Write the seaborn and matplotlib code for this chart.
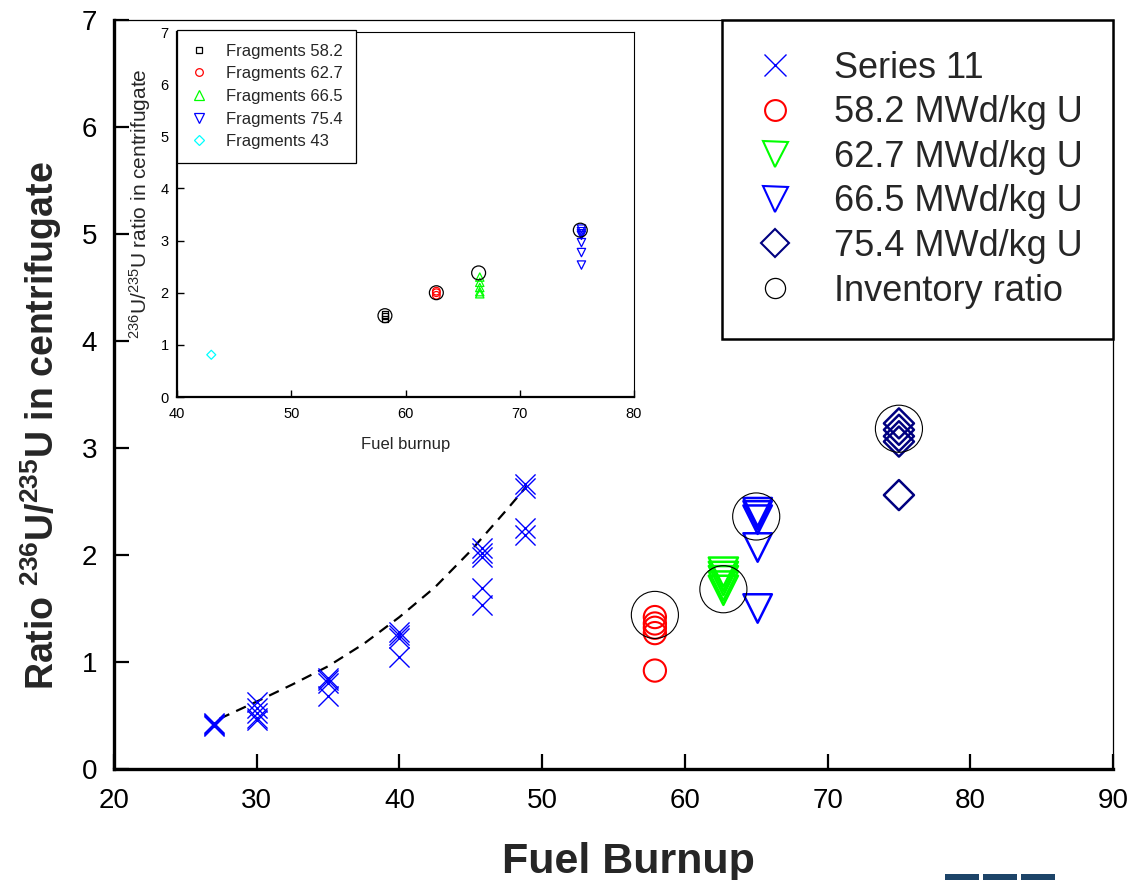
import numpy as np
import pandas as pd
import matplotlib
matplotlib.use("Agg")
import matplotlib.pyplot as plt
from matplotlib.lines import Line2D
from matplotlib.patches import Rectangle
import seaborn as sns

# ---------------- data ----------------
# main plot: Series 11 (blue crosses)
s11_x = [27, 27, 27, 27, 30, 30, 30, 30, 30, 35, 35, 35, 35,
         40, 40, 40, 40, 45.8, 45.8, 45.8, 45.8, 45.8, 48.8, 48.8, 48.8, 48.8]
s11_y = [0.40, 0.41, 0.42, 0.43, 0.63, 0.57, 0.52, 0.48, 0.46, 0.85, 0.83, 0.80, 0.68,
         1.28, 1.25, 1.22, 1.05, 2.07, 2.02, 1.98, 1.69, 1.53, 2.66, 2.63, 2.25, 2.19]

# dashed trend line (read points)
fit_x = [27.4, 30.0, 32.5, 35.0, 37.5, 40.0, 42.5, 45.0, 47.5, 48.9]
fit_y = [0.47, 0.63, 0.79, 0.96, 1.17, 1.42, 1.70, 2.04, 2.42, 2.64]

# burnup groups
b582_x = [57.9, 57.9, 57.9, 57.9, 57.9]
b582_y = [1.42, 1.36, 1.32, 1.27, 0.92]
b627_x = [62.7, 62.7, 62.7, 62.7, 62.7]
b627_y = [1.84, 1.80, 1.76, 1.71, 1.67]
b665_x = [65.1, 65.1, 65.1, 65.1, 65.1]
b665_y = [2.40, 2.37, 2.33, 2.07, 1.50]
b754_x = [75.0, 75.0, 75.0, 75.0, 75.0]
b754_y = [3.23, 3.17, 3.11, 3.06, 2.56]
inv_x = [57.9, 62.7, 65.0, 75.0]
inv_y = [1.44, 1.68, 2.36, 3.18]

main_labels = ["Series 11", "58.2 MWd/kg U", "62.7 MWd/kg U",
               "66.5 MWd/kg U", "75.4 MWd/kg U", "Inventory ratio"]

# inset: fragments
f582_x = [58.2, 58.2, 58.2]
f582_y = [1.50, 1.55, 1.58]
f627_x = [62.7, 62.7, 62.7]
f627_y = [1.95, 2.00, 2.03]
f665_x = [66.5, 66.5, 66.5, 66.5, 66.5]
f665_y = [2.30, 2.20, 2.10, 2.02, 1.98]
f754_x = [75.4, 75.4, 75.4, 75.4, 75.4, 75.4, 75.4]
f754_y = [3.22, 3.17, 3.13, 3.10, 2.96, 2.77, 2.53]
f43_x = [43.0]
f43_y = [0.81]
finv_x = [58.2, 62.7, 66.4, 75.3]
finv_y = [1.56, 2.00, 2.38, 3.20]

inset_labels = ["Fragments 58.2", "Fragments 62.7", "Fragments 66.5",
                "Fragments 75.4", "Fragments 43"]

main_xticks = [20, 30, 40, 50, 60, 70, 80, 90]
main_yticks = [0, 1, 2, 3, 4, 5, 6, 7]
inset_xticks = [40, 50, 60, 70, 80]
inset_yticks = [0, 1, 2, 3, 4, 5, 6, 7]

# ---------------- styling ----------------
sns.set_theme(style="ticks")
plt.rcParams['font.family'] = ['Liberation Sans', 'DejaVu Sans']
plt.rcParams['mathtext.fontset'] = 'custom'
plt.rcParams['mathtext.rm'] = 'Liberation Sans'
plt.rcParams['mathtext.bf'] = 'Liberation Sans:bold'
plt.rcParams['mathtext.it'] = 'Liberation Sans:italic'

RED = '#ff0000'
GREEN = '#00ff00'
BLUE = '#0000ff'
NAVY = '#000080'
CYAN = '#00ffff'

fig = plt.figure(figsize=(11.32, 8.80), dpi=100)
ax = fig.add_axes([114/1132, 1-769/880, (1113-114)/1132, (769-20)/880])


def open_scatter(axis, xs, ys, marker, color, s, lw, z=3):
    df = pd.DataFrame({"x": xs, "y": ys})
    sns.scatterplot(data=df, x="x", y="y", ax=axis, marker=marker, s=s,
                    color=color, facecolor='none', edgecolor=color,
                    linewidth=lw, legend=False, zorder=z)


# Series 11
df11 = pd.DataFrame({"x": s11_x, "y": s11_y})
sns.scatterplot(data=df11, x="x", y="y", ax=ax, marker='x', s=210,
                color=BLUE, linewidth=1.0, legend=False, zorder=3)
# dashed line
dfit = pd.DataFrame({"x": fit_x, "y": fit_y})
sns.lineplot(data=dfit, x="x", y="y", ax=ax, color='black', linewidth=1.6,
             sort=False, legend=False, zorder=2)
ax.lines[-1].set_dashes((4.8, 3.4))

open_scatter(ax, b582_x, b582_y, 'o', RED, 256, 1.5)
open_scatter(ax, b627_x, b627_y, 'v', GREEN, 441, 1.8)
open_scatter(ax, b665_x, b665_y, 'v', BLUE, 420, 1.8)
open_scatter(ax, b754_x, b754_y, 'D', NAVY, 234, 1.8)
open_scatter(ax, inv_x, inv_y, 'o', 'black', 1150, 0.8, z=4)

ax.set_xlim(20, 90)
ax.set_ylim(0, 7)
ax.set_xticks(main_xticks)
ax.set_yticks(main_yticks)
ax.tick_params(axis='both', direction='in', length=11, width=1.6,
               labelsize=20, colors='black', top=False, right=False)
ax.tick_params(axis='y', pad=12)
ax.tick_params(axis='x', pad=14)
for side in ['left', 'bottom']:
    ax.spines[side].set_linewidth(2.4)
    ax.spines[side].set_color('black')
for side in ['top', 'right']:
    ax.spines[side].set_visible(True)
    ax.spines[side].set_linewidth(0.9)
    ax.spines[side].set_color('black')

ax.set_xlabel("Fuel Burnup", fontsize=31, fontweight='bold')
ax.set_ylabel(r"Ratio $^{\mathbf{236}}$U/$^{\mathbf{235}}$U in centrifugate",
              fontsize=27, fontweight='bold')
ax.xaxis.set_label_coords(0.515, -0.097)
ax.yaxis.set_label_coords(-0.05, 0.458)

handles = [
    Line2D([], [], ls='none', marker='x', color=BLUE, markersize=16, mew=1.0),
    Line2D([], [], ls='none', marker='o', mfc='none', mec=RED, markersize=15, mew=1.5),
    Line2D([], [], ls='none', marker='v', mfc='none', mec=GREEN, markersize=18, mew=1.5),
    Line2D([], [], ls='none', marker='v', mfc='none', mec=BLUE, markersize=18, mew=1.5),
    Line2D([], [], ls='none', marker='D', mfc='none', mec=NAVY, markersize=14, mew=1.5),
    Line2D([], [], ls='none', marker='o', mfc='none', mec='black', markersize=14.5, mew=0.9),
]
leg = ax.legend(handles=handles, labels=main_labels, loc='upper right',
                bbox_to_anchor=(1, 1), borderaxespad=0, fontsize=26,
                frameon=True, fancybox=False, framealpha=1, edgecolor='black',
                borderpad=0.85, labelspacing=0.265, handlelength=1.25,
                handletextpad=1.0)
leg.get_frame().set_linewidth(1.8)
leg.set_zorder(10)

# ---------------- inset ----------------
ins = fig.add_axes([177/1132, 1-397/880, (634-177)/1132, (397-32)/880])
ins.set_facecolor('white')
ins.set_zorder(5)

open_scatter(ins, f582_x, f582_y, 's', 'black', 22, 0.9)
open_scatter(ins, f627_x, f627_y, 'o', RED, 30, 0.9)
open_scatter(ins, f665_x, f665_y, '^', GREEN, 36, 0.9)
open_scatter(ins, f754_x, f754_y, 'v', BLUE, 36, 0.9)
open_scatter(ins, f43_x, f43_y, 'D', CYAN, 21, 0.9)
open_scatter(ins, finv_x, finv_y, 'o', 'black', 100, 0.9, z=4)

ins.set_xlim(40, 80)
ins.set_ylim(0, 7)
ins.set_xticks(inset_xticks)
ins.set_yticks(inset_yticks)
ins.tick_params(axis='both', direction='in', length=5, width=1.0,
                labelsize=10.5, colors='black', top=False, right=False)
ins.tick_params(axis='x', pad=7)
ins.tick_params(axis='y', pad=6)
for side in ['left', 'bottom']:
    ins.spines[side].set_linewidth(1.6)
    ins.spines[side].set_color('black')
for side in ['top', 'right']:
    ins.spines[side].set_visible(True)
    ins.spines[side].set_linewidth(0.8)
    ins.spines[side].set_color('black')
ins.set_xlabel("Fuel burnup", fontsize=12, labelpad=12)
ins.set_ylabel(r"$^{236}$U/$^{235}$U ratio in centrifugate", fontsize=15)
ins.yaxis.set_label_coords(-0.052, 0.53)

ihandles = [
    Line2D([], [], ls='none', marker='s', mfc='none', mec='black', markersize=4.5, mew=0.9),
    Line2D([], [], ls='none', marker='o', mfc='none', mec=RED, markersize=5.5, mew=0.9),
    Line2D([], [], ls='none', marker='^', mfc='none', mec=GREEN, markersize=6.5, mew=0.9),
    Line2D([], [], ls='none', marker='v', mfc='none', mec=BLUE, markersize=6.5, mew=0.9),
    Line2D([], [], ls='none', marker='D', mfc='none', mec=CYAN, markersize=5, mew=0.9),
]
ileg = ins.legend(handles=ihandles, labels=inset_labels, loc='upper left',
                  bbox_to_anchor=(0, 1.005), borderaxespad=0, fontsize=12,
                  frameon=True, fancybox=False, framealpha=1, edgecolor='black',
                  borderpad=0.8, labelspacing=0.46, handlelength=1.05,
                  handletextpad=1.1)
ileg.get_frame().set_linewidth(0.9)

# decorative bar fragment at bottom right
for x0, x1 in [(945, 979), (983, 1017), (1021, 1055)]:
    fig.patches.append(Rectangle((x0/1132, 0), (x1-x0)/1132, 6/880,
                                 transform=fig.transFigure, facecolor='#1d4468',
                                 edgecolor='none', zorder=20))

fig.savefig("out.png", dpi=100)
